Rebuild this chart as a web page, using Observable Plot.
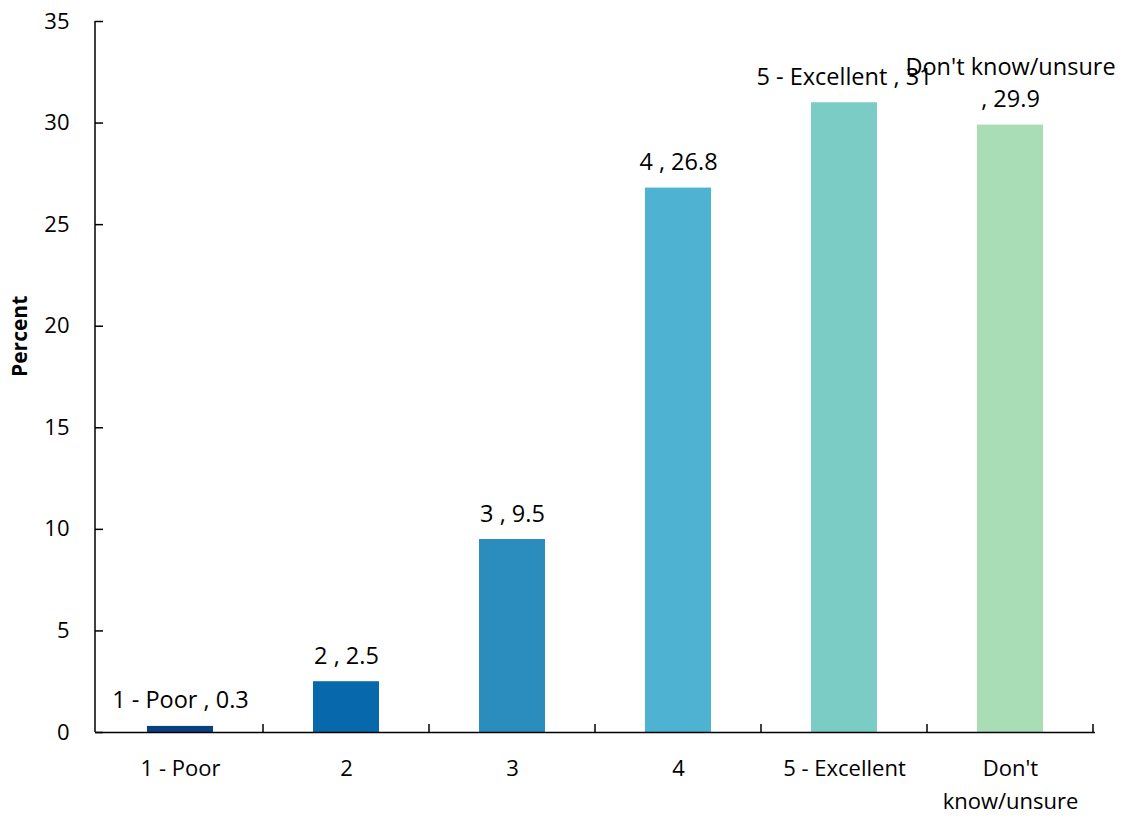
<!DOCTYPE html>
<html><head><meta charset="utf-8">
<script src="https://cdn.jsdelivr.net/npm/d3@7"></script>
<script src="https://cdn.jsdelivr.net/npm/@observablehq/plot@0.6"></script>
<style>body{margin:0;background:#fff}</style>
</head><body><div id="chart"></div>
<script>
const categories = ["1 - Poor", "2", "3", "4", "5 - Excellent", "Don't know/unsure"];
const percents = [0.3, 2.5, 9.5, 26.8, 31, 29.9];
const barColors = ["#084081", "#0868ac", "#2b8cbe", "#4eb3d3", "#7bccc4", "#a8ddb5"];
const yTicks = [0, 5, 10, 15, 20, 25, 30, 35];
const yLabel = "Percent";

const wrapLong = (s) => s.length > 14;
const rows = categories.map((c, i) => ({
  category: c,
  value: percents[i],
  label: wrapLong(c) ? `${c}\n, ${percents[i]}` : `${c} , ${percents[i]}`
}));

const chart = Plot.plot({
  width: 1124,
  height: 817,
  marginLeft: 95,
  marginRight: 29,
  marginTop: 21,
  marginBottom: 85,
  style: {fontFamily: "'Open Sans', sans-serif", fontSize: "22px", color: "#000", background: "#fff"},
  x: {domain: categories, padding: 0.6, paddingOuter: 0.3, label: null},
  y: {domain: [0, 35], label: null},
  color: {domain: categories, range: barColors},
  marks: [
    Plot.barY(rows, {x: "category", y: "value", fill: "category"}),
    Plot.ruleY([0], {stroke: "#000", strokeWidth: 1.5}),
    Plot.axisY({ticks: yTicks, tickSize: 8, dx: 8, tickFormat: () => "", strokeWidth: 1.5, stroke: "#000", label: null}),
    Plot.axisY({ticks: yTicks, tickSize: 0, tickPadding: 26, fontSize: 22, fill: "#000", label: null}),
    Plot.axisX({tickSize: 0, tickPadding: 20, fontSize: 22, lineHeight: 1.5, fill: "#000", label: null,
      tickFormat: (d) => wrapLong(d) ? d.replace(" ", "\n") : d}),
    Plot.text(rows, {x: "category", y: "value", text: "label", lineAnchor: "bottom", dy: -18,
      fontSize: 23.5, lineHeight: 1.36, fill: "#000"}),
    Plot.text([yLabel], {text: (d) => d, frameAnchor: "left", rotate: -90, dx: -75,
      fontWeight: "bold", fontSize: 21, fill: "#000"})
  ]
});

// Axis line and category boundary ticks drawn from Plot's own scales
const xs = chart.scale("x"), ys = chart.scale("y");
const svg = d3.select(chart);
const y0 = ys.apply(0), yTop = ys.apply(35);
const g = svg.append("g").attr("stroke", "#000").attr("stroke-width", 1.5);
g.append("line").attr("x1", xs.range[0]).attr("x2", xs.range[0]).attr("y1", yTop).attr("y2", y0);
categories.forEach((c) => {
  const bx = xs.apply(c) + xs.bandwidth + (xs.step - xs.bandwidth) / 2;
  g.append("line").attr("x1", bx).attr("x2", bx).attr("y1", y0).attr("y2", y0 - 8);
});

document.getElementById("chart").appendChild(chart);
</script>
</body></html>
